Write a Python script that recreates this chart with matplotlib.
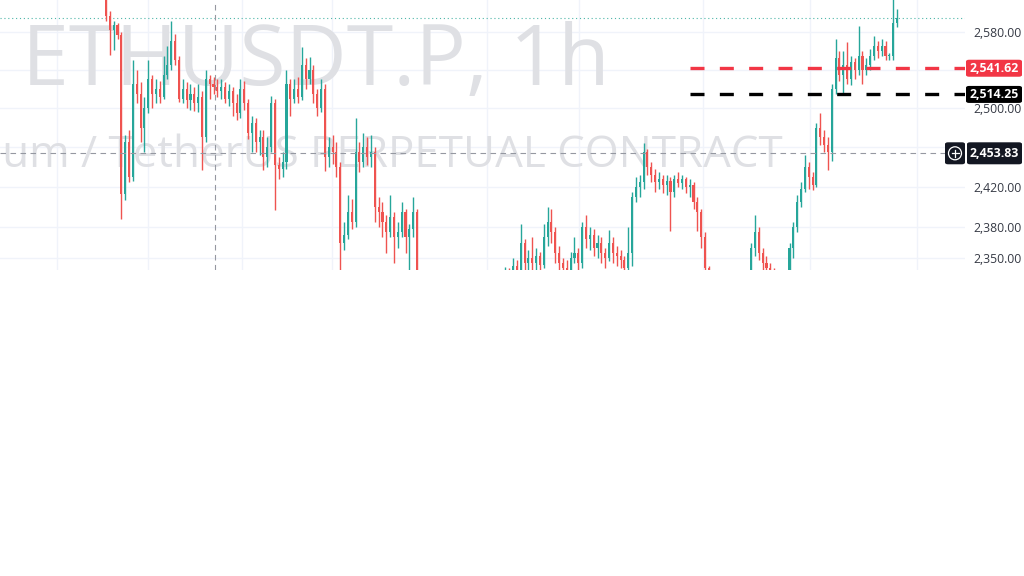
import matplotlib
matplotlib.use("Agg")
import matplotlib.pyplot as plt
import numpy as np
from matplotlib.patches import FancyBboxPatch, Ellipse
from matplotlib.lines import Line2D
from matplotlib.ticker import FixedLocator, NullLocator, FixedFormatter

# ---------------- data (1h candles, ETHUSDT.P) ----------------
first_open = 2635
closes = [2597, 2582, 2587, 2577, 2413, 2465, 2430, 2525, 2515, 2480,
          2500, 2530, 2515, 2520, 2512, 2535, 2545, 2570, 2550, 2510,
          2520, 2508, 2515, 2505, 2512, 2470, 2530, 2525, 2522, 2518,
          2522, 2510, 2518, 2505, 2495, 2520, 2505, 2475, 2485, 2465,
          2470, 2450, 2460, 2505, 2442, 2438, 2445, 2525, 2510, 2520,
          2512, 2545, 2530, 2540, 2515, 2500, 2520, 2450, 2460, 2455,
          2440, 2365, 2372, 2395, 2385, 2455, 2445, 2460, 2450, 2455,
          2400, 2395, 2385, 2375, 2390, 2370, 2375, 2395, 2370, 2378,
          2395, 2325, 2318, 2310, 2305, 2298, 2306, 2300, 2292, 2298,
          2290, 2296, 2302, 2295, 2300, 2308, 2303, 2312, 2318, 2314,
          2322, 2318, 2326, 2330, 2335, 2332, 2342, 2338, 2365, 2345,
          2350, 2345, 2352, 2343, 2370, 2385, 2375, 2355, 2345, 2340,
          2335, 2350, 2355, 2345, 2380, 2368, 2372, 2360, 2365, 2355,
          2350, 2365, 2355, 2352, 2348, 2340, 2355, 2410, 2420, 2425,
          2455, 2440, 2432, 2425, 2428, 2422, 2426, 2415, 2428, 2424,
          2428, 2420, 2422, 2405, 2395, 2370, 2340, 2325, 2318, 2310,
          2315, 2306, 2312, 2308, 2318, 2322, 2330, 2325, 2360, 2375,
          2355, 2345, 2340, 2335, 2330, 2322, 2318, 2330, 2360, 2380,
          2405, 2418, 2440, 2430, 2422, 2480, 2470, 2462, 2455, 2520,
          2552, 2535, 2545, 2530, 2548, 2540, 2555, 2540, 2545, 2555,
          2565, 2560, 2565, 2555, 2555, 2590, 2595]
highs = [2645, 2602, 2592, 2590, 2580, 2472, 2478, 2550, 2540, 2527,
         2512, 2550, 2535, 2530, 2528, 2555, 2565, 2592, 2578, 2555,
         2530, 2527, 2525, 2522, 2525, 2518, 2540, 2535, 2532, 2530,
         2530, 2527, 2525, 2522, 2515, 2530, 2528, 2510, 2492, 2490,
         2478, 2478, 2470, 2513, 2510, 2450, 2455, 2540, 2530, 2530,
         2532, 2564, 2552, 2553, 2545, 2520, 2530, 2525, 2470, 2472,
         2465, 2445, 2385, 2412, 2408, 2490, 2465, 2475, 2470, 2472,
         2460, 2410, 2405, 2392, 2412, 2395, 2385, 2405, 2398, 2383,
         2410, 2398, 2330, 2325, 2318, 2312, 2315, 2312, 2305, 2306,
         2302, 2304, 2310, 2308, 2308, 2315, 2316, 2320, 2326, 2325,
         2330, 2328, 2334, 2337, 2341, 2340, 2350, 2348, 2383, 2368,
         2358, 2370, 2360, 2356, 2383, 2400, 2398, 2380, 2362, 2350,
         2348, 2356, 2370, 2360, 2385, 2392, 2380, 2378, 2372, 2370,
         2360, 2377, 2370, 2362, 2358, 2352, 2380, 2415, 2430, 2432,
         2464, 2458, 2445, 2438, 2435, 2432, 2432, 2430, 2432, 2435,
         2432, 2430, 2428, 2425, 2410, 2398, 2375, 2342, 2330, 2322,
         2322, 2320, 2320, 2318, 2325, 2330, 2336, 2338, 2365, 2392,
         2380, 2360, 2352, 2345, 2340, 2335, 2328, 2335, 2365, 2385,
         2412, 2425, 2452, 2445, 2435, 2485, 2495, 2478, 2470, 2525,
         2572, 2560, 2560, 2569, 2555, 2552, 2586, 2560, 2552, 2562,
         2576, 2570, 2572, 2570, 2558, 2630, 2605]
lows = [2592, 2556, 2561, 2572, 2388, 2407, 2425, 2426, 2505, 2465,
        2455, 2495, 2500, 2505, 2505, 2510, 2530, 2540, 2545, 2506,
        2505, 2500, 2498, 2497, 2496, 2437, 2465, 2510, 2515, 2512,
        2510, 2505, 2502, 2492, 2488, 2490, 2498, 2468, 2455, 2455,
        2452, 2437, 2440, 2455, 2397, 2428, 2430, 2438, 2492, 2505,
        2505, 2508, 2520, 2525, 2505, 2492, 2496, 2436, 2440, 2443,
        2430, 2335, 2358, 2368, 2378, 2380, 2435, 2440, 2442, 2440,
        2385, 2380, 2370, 2355, 2370, 2345, 2360, 2370, 2355, 2335,
        2370, 2310, 2305, 2300, 2295, 2290, 2292, 2294, 2285, 2286,
        2282, 2284, 2290, 2288, 2290, 2296, 2298, 2300, 2306, 2308,
        2310, 2312, 2314, 2320, 2325, 2322, 2328, 2330, 2335, 2335,
        2336, 2338, 2338, 2335, 2340, 2362, 2365, 2345, 2336, 2330,
        2325, 2330, 2345, 2336, 2340, 2360, 2358, 2352, 2350, 2345,
        2340, 2347, 2345, 2342, 2340, 2334, 2336, 2342, 2405, 2410,
        2418, 2432, 2425, 2415, 2418, 2414, 2412, 2376, 2410, 2420,
        2418, 2414, 2410, 2398, 2376, 2360, 2330, 2315, 2308, 2300,
        2302, 2298, 2300, 2298, 2302, 2312, 2315, 2318, 2320, 2352,
        2348, 2338, 2333, 2328, 2320, 2315, 2310, 2312, 2325, 2350,
        2375, 2400, 2415, 2418, 2417, 2420, 2462, 2455, 2437, 2446,
        2515, 2528, 2515, 2525, 2524, 2530, 2535, 2525, 2535, 2540,
        2550, 2552, 2555, 2550, 2550, 2550, 2585]

red_level = 2541.62
black_level = 2514.25
cross_level = 2453.83
last_price = 2595
axis_ticks = [2350, 2380, 2420, 2500, 2580]
grid_levels = [2350, 2380, 2420, 2460, 2500, 2540, 2580]
symbol_title = "ETHUSDT.P, 1h"
symbol_desc = "Ethereum / TetherUS PERPETUAL CONTRACT"

# ---------------- styling ----------------
W, H = 1024, 576
UP, DN = "#26a69a", "#ef5350"
GRID = "#f0f3fa"
WM = "#dfe0e4"
FONT = "Open Sans"

fig = plt.figure(figsize=(W / 100, H / 100), dpi=100)
fig.patch.set_facecolor("white")
pane_w, pane_h = 965, 270
ax = fig.add_axes([0, 1 - pane_h / H, pane_w / W, pane_h / H])
ax.set_facecolor("white")
for s in ax.spines.values():
    s.set_visible(False)

n = len(closes)
opens = np.array([first_open] + closes[:-1], dtype=float)
c = np.array(closes, dtype=float)
hi = np.maximum(np.array(highs, dtype=float), np.maximum(opens, c))
lo = np.minimum(np.array(lows, dtype=float), np.minimum(opens, c))
x = np.arange(n)

# x scale: first candle at px 106, 3.84 px per candle
px0, step = 106.0, 3.84
ax.set_xlim(-px0 / step, (pane_w - px0) / step)
ax.set_yscale("log")
ax.set_ylim(2338.3, 2614.3)

# grid
for g in grid_levels:
    ax.axhline(g, color=GRID, lw=1, zorder=0)
grid_x_px = [57, 148, 242, 332, 487, 579, 703, 810, 917]
for gx in grid_x_px:
    ax.axvline((gx - px0) / step, color=GRID, lw=1, zorder=0)

# ticks on the right
ax.yaxis.tick_right()
ax.yaxis.set_major_locator(FixedLocator(axis_ticks))
ax.yaxis.set_minor_locator(NullLocator())
ax.yaxis.set_major_formatter(FixedFormatter([f"{v:,.2f}" for v in axis_ticks]))
ax.yaxis.set_minor_formatter(FixedFormatter([]))
ax.tick_params(axis="y", which="both", length=0, pad=6, labelsize=8.8, labelcolor="#363a45")
for lab in ax.get_yticklabels():
    lab.set_fontfamily(FONT)
ax.set_xticks([])

# watermark
r = fig.canvas.get_renderer()
t1 = ax.text(22 / W, 1 - 85 / H, symbol_title, transform=fig.transFigure, fontsize=60,
             color=WM, family=FONT, va="baseline", ha="left", zorder=0.5, clip_on=False)
bb = t1.get_window_extent(r)
t1.set_fontsize(60 * 588 / bb.width)

tmp = ax.text(0, 0, "TetherUS PERPETUAL CONTRACT", transform=fig.transFigure, fontsize=30,
              family=FONT)
bw = tmp.get_window_extent(r).width
tmp.remove()
fs2 = 30 * 673 / bw
ax.text(783 / W, 1 - 167 / H, symbol_desc, transform=fig.transFigure, fontsize=fs2,
        color=WM, family=FONT, va="baseline", ha="right", zorder=0.5, clip_on=False)

# candles
cols = np.where(c >= opens, UP, DN)
ax.vlines(x, lo, hi, colors=cols, lw=1, zorder=2)
body_lo = np.minimum(opens, c)
body_h = np.maximum(np.abs(c - opens), 0.8)
ax.bar(x, body_h, bottom=body_lo, width=0.55, color=cols, linewidth=0, zorder=3)

# last price dotted line
ax.axhline(last_price, color="#4db6a8", lw=0.8, ls=(0, (1, 2.5)), zorder=1)

# crosshair
xmin, xmax = ax.get_xlim()
cross_x = (215 - px0) / step
ax.axvline(cross_x, color="#9598a1", lw=0.8, ls=(0, (5, 4)), zorder=4)
ax.hlines(cross_level, xmin, (945 - px0) / step, color="#9598a1", lw=0.8,
          ls=(0, (5, 4)), zorder=4)

# horizontal dashed levels
start = (690 - px0) / step
ax.hlines(red_level, start, xmax, color="#f23645", lw=2.4, ls=(0, (4.2, 4.6)), zorder=5)
ax.hlines(black_level, start, xmax, color="#000000", lw=2.4, ls=(0, (4.2, 4.6)), zorder=5)


def price_to_py(p):
    return ax.transData.transform((0, p))[1]  # display px from bottom


def label_box(p, text, fc, h=17, x0=966, x1=1022):
    yc = price_to_py(p)
    box = FancyBboxPatch((x0 / W, (yc - h / 2) / H), (x1 - x0) / W, h / H,
                         boxstyle="round,pad=0,rounding_size=0.003", transform=fig.transFigure,
                         fc=fc, ec="none", zorder=10)
    fig.add_artist(box)
    fig.text((x0 + x1) / 2 / W, yc / H, text, color="white", fontsize=8.8, fontweight="bold",
             family=FONT, ha="center", va="center", zorder=11)


label_box(red_level, f"{red_level:,.2f}", "#f23645")
label_box(black_level, f"{black_level:,.2f}", "#000000")
label_box(cross_level, f"{cross_level:,.2f}", "#131722", h=22, x0=967)

# crosshair "+" button
yc = price_to_py(cross_level)
btn = FancyBboxPatch((945 / W, (yc - 11) / H), 20 / W, 22 / H,
                     boxstyle="round,pad=0,rounding_size=0.003", transform=fig.transFigure,
                     fc="#131722", ec="none", zorder=10)
fig.add_artist(btn)
cx, cy = 955, yc
circ = Ellipse((cx / W, cy / H), 13 / W, 13 / H, transform=fig.transFigure, fc="none",
               ec="white", lw=0.9, zorder=11)
fig.add_artist(circ)
fig.add_artist(Line2D([(cx - 3.5) / W, (cx + 3.5) / W], [cy / H, cy / H], color="white",
                      lw=0.9, transform=fig.transFigure, zorder=12))
fig.add_artist(Line2D([cx / W, cx / W], [(cy - 3.5) / H, (cy + 3.5) / H], color="white",
                      lw=0.9, transform=fig.transFigure, zorder=12))

fig.savefig("out.png", dpi=100, facecolor="white")
